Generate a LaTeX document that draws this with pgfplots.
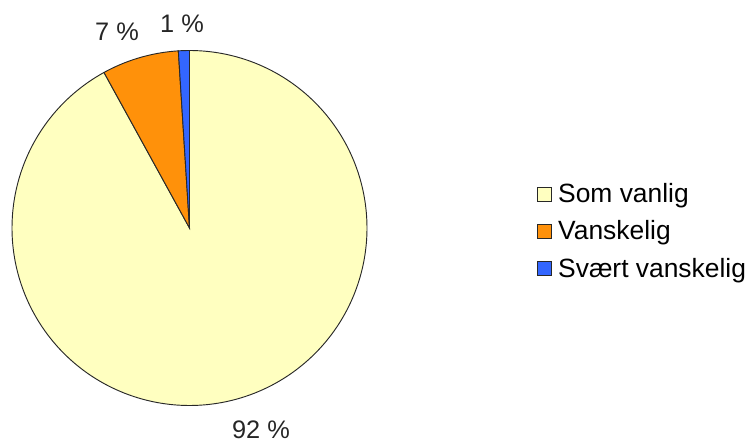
\documentclass[border=0pt]{standalone}
\usepackage{fontspec}
\setmainfont{Liberation Sans}
\usepackage{pgfplots}
\usepackage{pgfplotstable}
\pgfplotsset{compat=1.18}
\definecolor{pieyellow}{RGB}{255,255,192}
\definecolor{pieorange}{RGB}{255,145,10}
\definecolor{pieblue}{RGB}{51,102,255}
\definecolor{pieline}{RGB}{40,40,40}
\pgfplotstableread{
label value
SomVanlig 92
Vanskelig 7
SvaertVanskelig 1
}\piedata
\pgfplotstablegetelem{0}{value}\of\piedata \let\vA\pgfplotsretval
\pgfplotstablegetelem{1}{value}\of\piedata \let\vB\pgfplotsretval
\pgfplotstablegetelem{2}{value}\of\piedata \let\vC\pgfplotsretval
\pgfmathsetmacro{\tot}{\vA+\vB+\vC}
\pgfmathsetmacro{\aZero}{90}
\pgfmathsetmacro{\aOne}{90-360*(\vA/\tot)}
\pgfmathsetmacro{\aTwo}{\aOne-360*(\vB/\tot)}
\pgfmathsetmacro{\aThree}{\aTwo-360*(\vC/\tot)}
\def\cx{189.5}
\def\cy{215}
\def\rr{177.5}
\begin{document}
\begin{tikzpicture}
\begin{axis}[
  scale only axis,
  width=560.25pt, height=332.25pt,
  xmin=0, xmax=747, ymin=0, ymax=443,
  hide axis,
  clip=false,
  legend cell align=left,
  legend style={
    at={(axis cs:537,210)}, anchor=west,
    draw=none, fill=none, inner sep=0pt,
    font=\fontsize{19.8}{23}\selectfont,
    row sep=9.5pt, column sep=4.5pt,
    nodes={inner sep=0pt, text height=14.5pt, text depth=4pt},
  },
  legend image code/.code={\draw[#1] (0pt,-4pt) rectangle (10.5pt,6.5pt);},
]
\addplot[draw=none, forget plot] coordinates {(0,0) (747,443)};
\addplot[fill=pieyellow, draw=pieline, line width=0.7pt, domain=\aOne:\aZero, samples=300, variable=\t]
  ({\cx+\rr*cos(\t)},{\cy+\rr*sin(\t)}) -- (axis cs:\cx,\cy) -- cycle;
\addlegendentry{Som vanlig}
\addplot[fill=pieorange, draw=pieline, line width=0.7pt, domain=\aTwo:\aOne, samples=40, variable=\t]
  ({\cx+\rr*cos(\t)},{\cy+\rr*sin(\t)}) -- (axis cs:\cx,\cy) -- cycle;
\addlegendentry{Vanskelig}
\addplot[fill=pieblue, draw=pieline, line width=0.7pt, domain=\aThree:\aTwo, samples=10, variable=\t]
  ({\cx+\rr*cos(\t)},{\cy+\rr*sin(\t)}) -- (axis cs:\cx,\cy) -- cycle;
\addlegendentry{Svært vanskelig}
\node[font=\fontsize{19}{22}\selectfont, text=black!85] at (axis cs:261,13) {92 \%};
\node[font=\fontsize{19}{22}\selectfont, text=black!85] at (axis cs:117,411.5) {7 \%};
\node[font=\fontsize{19}{22}\selectfont, text=black!85] at (axis cs:182,419) {1 \%};
\end{axis}
\end{tikzpicture}
\end{document}
